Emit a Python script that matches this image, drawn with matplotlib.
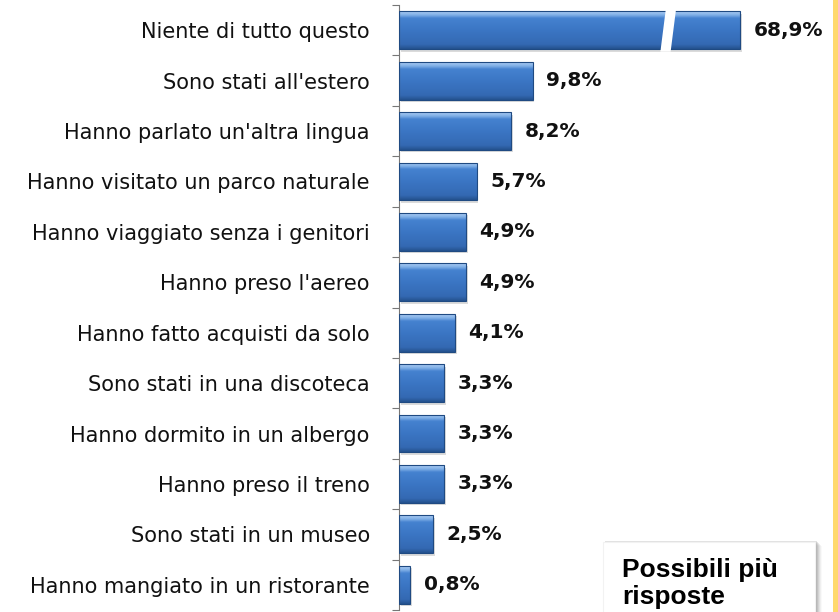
import numpy as np
import matplotlib.pyplot as plt
from matplotlib.patches import Polygon, Rectangle
from matplotlib.colors import LinearSegmentedColormap

categories = [
    "Niente di tutto questo",
    "Sono stati all'estero",
    "Hanno parlato un'altra lingua",
    "Hanno visitato un parco naturale",
    "Hanno viaggiato senza i genitori",
    "Hanno preso l'aereo",
    "Hanno fatto acquisti da solo",
    "Sono stati in una discoteca",
    "Hanno dormito in un albergo",
    "Hanno preso il treno",
    "Sono stati in un museo",
    "Hanno mangiato in un ristorante",
]
values = [68.9, 9.8, 8.2, 5.7, 4.9, 4.9, 4.1, 3.3, 3.3, 3.3, 2.5, 0.8]
labels = ["68,9%", "9,8%", "8,2%", "5,7%", "4,9%", "4,9%", "4,1%",
          "3,3%", "3,3%", "3,3%", "2,5%", "0,8%"]

# broken bar: anything above cap gets drawn at cap with a white slash
cap = 25.0
brk = 19.5

fig = plt.figure(figsize=(8.38, 6.12), dpi=100)
fig.patch.set_facecolor("white")
ax = fig.add_axes([399 / 838, 2 / 612, 431 / 838, 605 / 612])

n = len(categories)
y = np.arange(n)
h = 0.75
shown = [min(v, cap) for v in values]

cmap = LinearSegmentedColormap.from_list(
    "bar", [(0, "#25528f"), (0.12, "#3469b3"), (0.5, "#3b76c4"),
            (0.82, "#4582d0"), (0.9, "#7eaee6"), (1, "#a9cbf2")])
grad = np.linspace(0, 1, 64).reshape(-1, 1)

for yi, w in zip(y, shown):
    # soft shadow
    ax.add_patch(Rectangle((0.12, yi - h / 2 + 0.05), w, h,
                           facecolor="#9a9a9a", alpha=0.35, edgecolor="none", zorder=1))
    bar = ax.barh(yi, w, height=h, color="none", edgecolor="#1f4a82", linewidth=0.8, zorder=3)[0]
    im = ax.imshow(grad, cmap=cmap, aspect="auto", origin="lower",
                   extent=[0, w, yi + h / 2, yi - h / 2], zorder=2)
    im.set_clip_path(bar)

for yi, w, lab in zip(y, shown, labels):
    ax.text(w + 1.0, yi, lab, va="center", ha="left", fontsize=14.5,
            fontweight="bold", family="DejaVu Sans", color="#111111")

# white slash on the broken bar
for yi, v in zip(y, values):
    if v > cap:
        top = yi - h / 2 - 0.05
        bot = yi + h / 2 + 0.05
        ax.add_patch(Polygon([(brk - 0.35, bot), (brk + 0.4, bot),
                              (brk + 0.8, top), (brk + 0.05, top)],
                             closed=True, facecolor="white", edgecolor="none", zorder=4))

ax.set_xlim(0, 431 / 13.65)
ax.set_ylim(n - 0.5, -0.5)
ax.set_yticks(y)
ax.set_yticklabels(categories, fontsize=15, family="DejaVu Sans", color="#111111")
ax.tick_params(axis="y", which="major", length=0, pad=21)
ax.set_yticks(np.arange(n + 1) - 0.5, minor=True)
ax.tick_params(axis="y", which="minor", length=5, color="#777777", width=0.8)
ax.set_xticks([])
for s in ["top", "right", "bottom"]:
    ax.spines[s].set_visible(False)
ax.spines["left"].set_color("#777777")
ax.spines["left"].set_linewidth(0.8)
ax.set_facecolor("none")

# note box with soft shadow
for k, a in enumerate([0.10, 0.18, 0.26, 0.34, 0.42, 0.5]):
    d = 7 - k
    fig.patches.append(Rectangle(((603 + d) / 838, -0.05), 212 / 838,
                                 (612 - 542 - d + 3) / 612 + 0.05,
                                 transform=fig.transFigure, facecolor="#8c8c8c",
                                 edgecolor="none", alpha=a * 0.5, zorder=5))
fig.patches.append(Rectangle((603 / 838, -0.05), 212 / 838, (612 - 542) / 612 + 0.05,
                             transform=fig.transFigure, facecolor="white",
                             edgecolor="#f2f2f2", linewidth=0.8, zorder=6))
fig.text(622 / 838, 1 - 577 / 612, "Possibili più", fontsize=19,
         fontweight="bold", family="Liberation Sans", va="baseline", ha="left", zorder=7)
fig.text(622 / 838, 1 - 604 / 612, "risposte", fontsize=19,
         fontweight="bold", family="Liberation Sans", va="baseline", ha="left", zorder=7)

# yellow border on the right
fig.patches.append(Rectangle((833 / 838, 0), 5 / 838, 1, transform=fig.transFigure,
                             facecolor="#ffd96e", edgecolor="none", zorder=8))

fig.savefig("out.png", dpi=100)
